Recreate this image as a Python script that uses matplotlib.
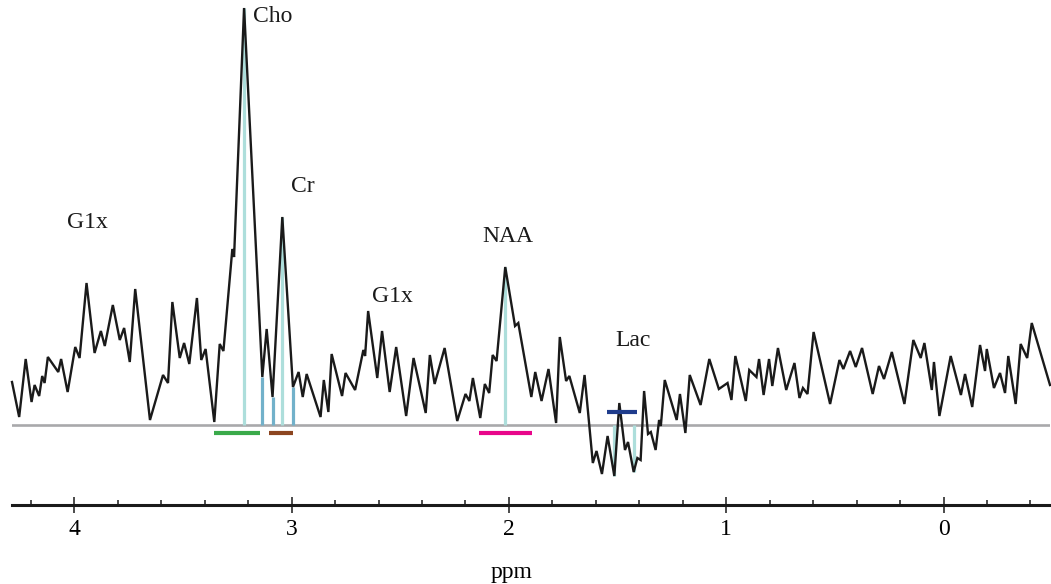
import numpy as np
import matplotlib
matplotlib.use("Agg")
import matplotlib.pyplot as plt
from matplotlib.ticker import MultipleLocator, FixedLocator

# ---- spectrum data (ppm, intensity in arbitrary units) ----
ppm = [4.287, 4.254, 4.224, 4.197, 4.183, 4.162, 4.148, 4.137, 4.122, 4.074,
       4.061, 4.031, 3.996, 3.976, 3.944, 3.907, 3.878, 3.860, 3.823, 3.791,
       3.771, 3.745, 3.720, 3.652, 3.592, 3.569, 3.549, 3.515, 3.495, 3.471,
       3.436, 3.416, 3.396, 3.356, 3.331, 3.314, 3.273, 3.265, 3.219, 3.135,
       3.115, 3.088, 3.043, 2.994, 2.968, 2.949, 2.931, 2.867, 2.852, 2.831,
       2.816, 2.768, 2.752, 2.708, 2.670, 2.662, 2.648, 2.606, 2.584, 2.549,
       2.519, 2.473, 2.439, 2.383, 2.364, 2.342, 2.296, 2.238, 2.200, 2.182,
       2.166, 2.132, 2.111, 2.091, 2.075, 2.057, 2.017, 1.972, 1.957, 1.897,
       1.879, 1.850, 1.818, 1.783, 1.766, 1.737, 1.722, 1.674, 1.652, 1.614,
       1.597, 1.572, 1.546, 1.515, 1.492, 1.466, 1.452, 1.426, 1.409, 1.394,
       1.378, 1.360, 1.347, 1.325, 1.309, 1.301, 1.283, 1.228, 1.213, 1.188,
       1.168, 1.118, 1.078, 1.034, 0.994, 0.976, 0.958, 0.910, 0.894, 0.861,
       0.849, 0.828, 0.803, 0.788, 0.762, 0.724, 0.686, 0.663, 0.647, 0.626,
       0.598, 0.522, 0.479, 0.461, 0.430, 0.404, 0.375, 0.326, 0.297, 0.274,
       0.238, 0.180, 0.139, 0.105, 0.088, 0.054, 0.044, 0.019, -0.033, -0.080,
       -0.099, -0.132, -0.168, -0.191, -0.199, -0.232, -0.260, -0.283, -0.298, -0.332,
       -0.355, -0.385, -0.406, -0.490]
intensity = [43, 8, 66, 23, 40, 29, 49, 42, 68, 53,
             66, 33, 78, 67, 142, 72, 94, 79, 120, 85,
             97, 63, 136, 5, 50, 42, 123, 67, 82, 61,
             127, 65, 76, 3, 81, 74, 176, 168, 417, 48,
             96, 28, 208, 38, 53, 28, 51, 8, 45, 13,
             71, 29, 52, 35, 75, 69, 114, 47, 94, 33,
             78, 9, 67, 12, 70, 41, 77, 4, 31, 24,
             47, 7, 41, 32, 70, 64, 158, 99, 102, 28,
             53, 24, 56, 2, 88, 44, 49, 12, 50, -38,
             -26, -49, -11, -51, 22, -25, -17, -47, -33, -35,
             34, -9, -7, -25, 5, -1, 45, 5, 31, -8,
             50, 20, 66, 36, 42, 25, 69, 24, 55, 48,
             66, 30, 66, 39, 77, 35, 62, 27, 37, 31,
             93, 21, 65, 56, 74, 58, 77, 31, 59, 46,
             73, 21, 85, 67, 82, 35, 63, 9, 69, 30,
             51, 18, 80, 54, 76, 37, 52, 32, 69, 21,
             81, 67, 102, 40]

# ---- fitted-peak stems (ppm positions) ----
stems_light = [3.219, 3.043, 2.017, 1.515, 1.426]
stems_blue = [3.135, 3.088, 2.994]

# ---- metabolite range bars: (start ppm, end ppm, level) ----
bar_names = ["Cho", "Cr", "NAA", "Lac"]
bar_start = [3.357, 3.106, 2.139, 1.549]
bar_end = [3.147, 2.995, 1.893, 1.411]
bar_level = [-8, -8, -8, 13]
bar_colors = ["#3aaa4a", "#8c4520", "#e8068a", "#1f3c8c"]

# ---- peak labels ----
label_text = ["Cho", "Cr", "G1x", "G1x", "NAA", "Lac"]
label_ppm = [3.089, 2.947, 3.938, 2.536, 2.007, 1.430]
label_int = [409, 239, 203, 129, 189, 84]

xticks_major = [4, 3, 2, 1, 0]

FONT = ["Liberation Serif", "DejaVu Serif"]

fig = plt.figure(figsize=(10.51, 5.84), dpi=100)
ax = fig.add_axes([12 / 1051, 79 / 584, 1038 / 1051, 505 / 584])

ppm_arr = np.array(ppm)
int_arr = np.array(intensity, dtype=float)

ax.axhline(0, color="#a9a9ab", lw=1.9, zorder=1)

order = np.argsort(ppm_arr)
for p in stems_light:
    v = np.interp(p, ppm_arr[order], int_arr[order])
    ax.vlines(p, 0, v, color="#addedb", lw=2.3, zorder=2)
for p in stems_blue:
    v = np.interp(p, ppm_arr[order], int_arr[order])
    ax.vlines(p, 0, v, color="#72b1ca", lw=2.3, zorder=2)

ax.plot(ppm_arr, int_arr, color="#1a1a1a", lw=1.7, zorder=3, clip_on=False,
        solid_joinstyle="miter")

for s, e, lvl, c in zip(bar_start, bar_end, bar_level, bar_colors):
    ax.hlines(lvl, s, e, color=c, lw=3.0, zorder=4, capstyle="butt")

for t, p, v in zip(label_text, label_ppm, label_int):
    ax.text(p, v, t, ha="center", va="center", fontsize=17, family=FONT,
            color="#1a1a1a")

ax.set_xlim(4.287, -0.49)
ax.set_ylim(-80, 425)

for s in ["top", "left", "right"]:
    ax.spines[s].set_visible(False)
ax.spines["bottom"].set_linewidth(2.2)
ax.spines["bottom"].set_color("#1a1a1a")

ax.yaxis.set_visible(False)
ax.xaxis.set_major_locator(FixedLocator(xticks_major))
ax.xaxis.set_minor_locator(MultipleLocator(0.2))
ax.tick_params(axis="x", which="major", direction="inout", length=11.5, width=1.1,
               pad=4.5, labelsize=17, color="#1a1a1a")
ax.tick_params(axis="x", which="minor", direction="in", length=3.6, width=1.1,
               color="#1a1a1a")
ax.set_xticklabels([str(t) for t in xticks_major], family=FONT)

ax.set_xlabel("ppm", fontsize=17, family=FONT)
ax.xaxis.set_label_coords(0.4817, -0.112)

fig.savefig("out.png", dpi=100)
